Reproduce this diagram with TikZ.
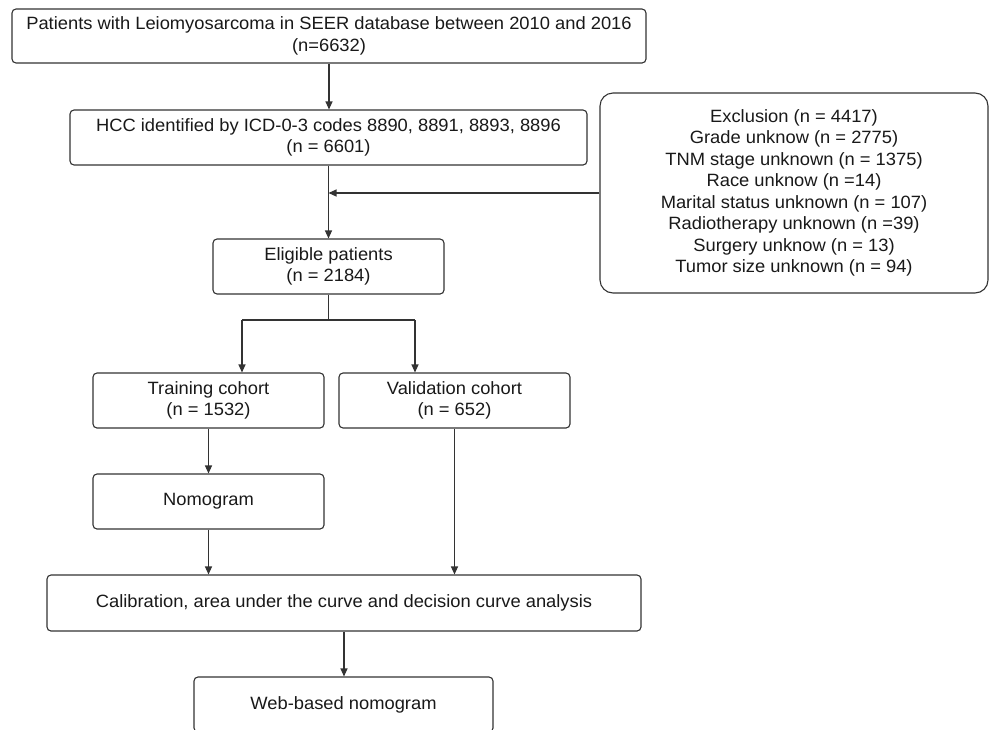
\documentclass[tikz,border=0pt]{standalone}
\usepackage{fontspec}
\setmainfont[FakeStretch=1.03]{Liberation Sans}
\usetikzlibrary{arrows.meta}
\tikzset{
  box/.style={draw=black!80, line width=1.1pt, rounded corners=4pt, inner sep=0pt,
    align=center, text=black!90, font=\fontsize{17.8}{21.5}\selectfont},
  exclbox/.style={box, rounded corners=13pt},
  conn/.style={draw=black!80, line width=1.1pt},
  arr/.style={conn, -{Triangle[length=8pt,width=7pt]}}
}
\begin{document}
\begin{tikzpicture}[x=1pt,y=-1pt]
\useasboundingbox (0,0) rectangle (993,729);
\clip (0,0) rectangle (993,729);
\fill[white] (0,0) rectangle (993,729);

\node[box, minimum width=634, minimum height=54] (top) at (329,36)
  {Patients with Leiomyosarcoma in SEER database between 2010 and 2016\\(n=6632)};
\node[box, minimum width=517, minimum height=55] (hcc) at (328.5,137.5)
  {HCC identified by ICD-0-3 codes 8890, 8891, 8893, 8896\\(n = 6601)};
\node[exclbox, minimum width=388, minimum height=200] (excl) at (794,193)
  {Exclusion (n = 4417)\\Grade unknow (n = 2775)\\TNM stage unknown (n = 1375)\\Race unknow (n =14)\\Marital status unknown (n = 107)\\Radiotherapy unknown (n =39)\\Surgery unknow (n = 13)\\Tumor size unknown (n = 94)};
\node[box, minimum width=231, minimum height=55] (elig) at (328.5,266.5)
  {Eligible patients\\(n = 2184)};
\node[box, minimum width=231, minimum height=55] (train) at (208.5,400.5)
  {Training cohort\\(n = 1532)};
\node[box, minimum width=231, minimum height=55] (valid) at (454.5,400.5)
  {Validation cohort\\(n = 652)};
\node[box, minimum width=231, minimum height=55] (nomo) at (208.5,501.5)
  {Nomogram};
\node[box, minimum width=594, minimum height=56] (calib) at (344,603)
  {Calibration, area under the curve and decision curve analysis};
\node[box, minimum width=299, minimum height=55] (web) at (343.5,704.5)
  {Web-based nomogram};

\coordinate (jl) at (242,320);
\coordinate (jr) at (415,320);

\draw[arr] (top.south) -- (top.south |- hcc.north);
\draw[arr] (hcc.south) -- (hcc.south |- elig.north);
\draw[arr] (excl.west) -- (excl.west -| hcc.south);
\draw[conn] (elig.south) -- (elig.south |- jl);
\draw[conn] (jl) -- (jr);
\draw[arr] (jl) -- (jl |- train.north);
\draw[arr] (jr) -- (jr |- valid.north);
\draw[arr] (train.south) -- (nomo.north);
\draw[arr] (nomo.south) -- (nomo.south |- calib.north);
\draw[arr] (valid.south) -- (valid.south |- calib.north);
\draw[arr] (calib.south) -- (calib.south |- web.north);
\end{tikzpicture}
\end{document}
